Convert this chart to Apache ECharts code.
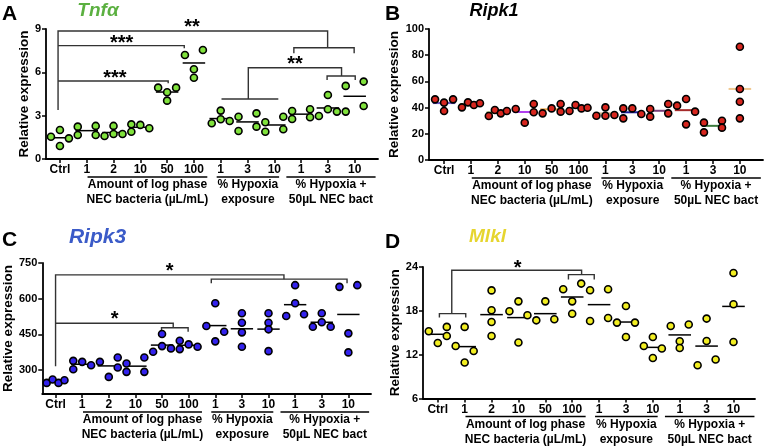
<!DOCTYPE html>
<html><head><meta charset="utf-8">
<script src="https://cdn.jsdelivr.net/npm/echarts@6/dist/echarts.min.js"></script>
<style>html,body{margin:0;padding:0;background:#fff}#c{width:765px;height:446px}</style>
</head><body><div id="c"></div>
<script>
// ---------- data ----------
const categories = ['Ctrl','1','2','10','50','100','1','3','10','1','3','10'];
const groupTitles = [['Amount of log phase','NEC bacteria (µL/mL)'],['% Hypoxia','exposure'],['% Hypoxia +','50µL NEC bact']];
const groupSpans = [[1.03,5.5],[5.85,8.18],[8.45,11.78]];

// Tnfα
const tnfaValues = [
  [1.54,2.01,0.90,1.43],[2.24,1.66,2.29,1.66],[1.59,2.29,1.73,1.73],[2.40,1.89,2.36,2.13],
  [4.94,4.62,4.04,4.94],[7.20,6.21,5.63,7.55],[2.47,3.35,2.75,2.63],[2.93,1.94,3.16,2.24],
  [2.54,1.89,2.93,2.06],[3.32,2.77,3.44,2.89],[2.98,4.43,3.44,3.28],[5.06,3.28,5.36,3.67]];
const tnfaSlots = [
  [-1,0,0,1],[-1,-1,1,1],[-1,0,0,1],[-1,-1,0,1],[-1,0,0,1],[-1,0,0,1],
  [-1,0,0,1],[-1,-1,1,1],[-1,-1,1,1],[-1,-1,1,1],[-1,0,0,1],[-1,-1,1,1]];
// Ripk1
const ripk1Values = [
  [46.3,43.8,37.4,46.3],[40.2,44.0,42.0,43.3],[33.6,38.2,35.6,37.4],[38.9,28.5,42.7,36.4],
  [35.6,39.4,42.7,36.9],[37.4,42.0,39.4,39.9],[33.8,40.2,33.8,34.4],[39.4,31.8,39.4,35.1],
  [38.9,33.1,42.7,35.6],[41.5,46.6,27.2,36.9],[28.5,21.1,30.0,24.7],[86.5,54.2,44.5,31.8]];
const ripk1Slots = [
  [-1,0,0,1],[-1,-0.33,0.33,1],[-1,-0.33,0.33,1],[-1,0,1,1],[-1,0,1,1],[-1,-0.33,0.33,1],
  [-1,0,0,1],[-1,-1,0,1],[-1,-1,1,1],[-1,0,0,1],[-1,-1,1,1],[0,0,0,0]];
// Ripk3
const ripk3Values = [
  [246.6,260.8,246.6,257.9],[339.2,304.2,335.0,321.0],[335.0,271.8,353.5,311.4],[328.2,292.9,353.5,292.9],
  [377.1,451.7,401.1,391.4],[423.5,388.5,408.3,398.2],[485.4,581.0,421.0,461.4],[538.9,499.3,458.9,398.2],
  [538.9,499.3,471.5,380.0],[527.6,656.9,581.0,534.7],[482.5,538.9,501.0,482.5],[649.8,454.7,374.6,656.9]];
const ripk3Slots = [
  [-1,-0.33,0.33,1],[-1,-1,0,1],[-1,0,1,1],[-1,-1,1,1],[-1,0,0,1],[-1,-1,0,1],
  [-1,0,0,1],[0,0,0,0],[0,0,0,0],[-1,0,0,1],[-1,0,0,1],[-1,0,0,1]];
// Mlkl
const mlklValues = [
  [15.2,13.6,15.8,14.56],[13.19,15.8,10.92,12.5],[20.8,18.08,16.48,14.56],[17.94,19.3,13.66,17.39],
  [16.7,19.3,16.84],[20.95,19.3,17.6,21.73],[20.81,16.61,20.95,17.02],[16.39,18.67,14.42,16.39],
  [13.19,14.42,11.55,12.84],[15.93,13.84,12.92,16.12],[10.55,16.94,13.88,11.33],[23.18,18.9,13.74]];
const mlklSlots = [
  [-1,0,1,1],[-1,0,0,1],[0,0,0,0],[-1,0,0,1],[-1,0,1],[-1,0,0,1],
  [-1,-1,1,1],[-1,0,0,1],[-1,0,0,1],[-1,0,0,1],[-1,0,0,1],[0,0,0]];

// significance annotations (category units, value units)
const tnfaBrackets = [
  [[-0.07,3.4],[-0.07,8.86],[9.99,8.86],[9.99,7.7]],
  [[8.73,7.32],[8.73,7.7],[10.98,7.7],[10.98,7.32]],
  [[-0.07,7.85],[4.64,7.85],[4.64,7.67]],
  [[-0.07,5.40],[4.04,5.40],[4.04,5.24]],
  [[6.03,4.15],[8.15,4.15]],
  [[7.03,4.15],[7.03,6.32],[10.51,6.32],[10.51,5.75]],
  [[9.97,5.47],[9.97,5.75],[11.02,5.75],[11.02,5.47]]];
const tnfaStars = [[4.93,9.42,'**'],[2.3,8.36,'***'],[2.05,5.93,'***'],[8.77,6.86,'**']];
const ripk3Brackets = [
  [[0,316.9],[0,700.3],[8.58,700.3],[8.58,682.2]],
  [[5.85,665.4],[5.85,682.2],[10.95,682.2],[10.95,665.4]],
  [[0,496.8],[4.42,496.8],[4.42,478.3]],
  [[3.98,461.4],[3.98,478.3],[4.98,478.3],[4.98,461.4]]];
const ripk3Stars = [[4.29,735.3,'*'],[2.22,531.8,'*']];
const mlklBrackets = [
  [[0.52,17.62],[0.52,23.55],[5.35,23.55],[5.35,22.96]],
  [[0.06,17.08],[0.06,17.62],[1.04,17.62],[1.04,17.08]],
  [[4.86,22.3],[4.86,22.96],[5.82,22.96],[5.82,22.3]]];
const mlklStars = [[2.97,24.47,'*']];

// ---------- styles / layout ----------
const FONT = "'Liberation Sans', Arial, sans-serif";
const SLOT = 0.335, HW = 0.42;
const ripk1LineColors = ['#6a5acd','#9acd32','#6b8e23','#b040f0','#e8a040','#20b2aa','#d2b48c','#1c1c9c','#7b3f7b','#a52a2a','#3c7a3c','#f0c890'];

const panels = [
  {letter:'A', lx:2, ly:15, title:'Tnf\u03b1', tc:'#5bb040', ts:19, tx:98, ty:11,
   grid:{left:46, top:29, width:332, height:130}, xMin:-0.52, xMax:11.87,
   yMin:0, yMax:9, yTicks:[0,3,6,9], nameGap:12, fill:'#80e23c',
   values:tnfaValues, slots:tnfaSlots, lineColors:null, brackets:tnfaBrackets, stars:tnfaStars},
  {letter:'B', lx:385, ly:15, title:'Ripk1', tc:'#000', ts:18, tx:494, ty:11,
   grid:{left:429, top:29, width:334, height:131}, xMin:-0.56, xMax:11.86,
   yMin:0, yMax:100, yTicks:[0,20,40,60,80,100], nameGap:25, fill:'#d7261e',
   values:ripk1Values, slots:ripk1Slots, lineColors:ripk1LineColors, brackets:[], stars:[]},
  {letter:'C', lx:2, ly:241, title:'Ripk3', tc:'#3b5bc8', ts:21, tx:97.5, ty:237.5,
   grid:{left:40, top:263, width:331, height:131}, xMin:-0.5, xMax:11.85,
   yMin:200, yMax:750, yTicks:[300,450,600,750], nameGap:26, fill:'#3322ee',
   values:ripk3Values, slots:ripk3Slots, lineColors:null, brackets:ripk3Brackets, stars:ripk3Stars},
  {letter:'D', lx:385, ly:243, title:'Mlkl', tc:'#e6d52e', ts:19, tx:487.5, ty:236.5,
   grid:{left:423, top:267, width:332, height:131.5}, xMin:-0.55, xMax:11.8,
   yMin:6, yMax:24, yTicks:[6,12,18,24], nameGap:19, fill:'#f2ee22',
   values:mlklValues, slots:mlklSlots, lineColors:null, brackets:mlklBrackets, stars:mlklStars}
];

const mean = a => a.reduce((s,v)=>s+v,0)/a.length;
const catIdx = categories.map((_,i)=>i);

const grids=[], xAxes=[], yAxes=[], series=[], graphics=[];
panels.forEach((p,i)=>{
  grids.push(Object.assign({containLabel:false}, p.grid));
  xAxes.push({type:'value', gridIndex:i, min:p.xMin, max:p.xMax,
    axisLine:{show:true, onZero:false, lineStyle:{color:'#000', width:1.8}},
    axisTick:{show:true, customValues:catIdx, length:4, lineStyle:{color:'#000', width:1.5}},
    axisLabel:{customValues:catIdx, formatter:v=>categories[Math.round(v)], margin:5,
      color:'#000', fontWeight:'bold', fontSize:12, fontFamily:FONT},
    splitLine:{show:false}});
  yAxes.push({type:'value', gridIndex:i, min:p.yMin, max:p.yMax,
    name:'Relative expression', nameLocation:'middle', nameGap:p.nameGap, nameRotate:90,
    nameTextStyle:{color:'#000', fontWeight:'bold', fontSize:13.5, fontFamily:FONT},
    axisLine:{show:true, onZero:false, lineStyle:{color:'#000', width:1.8}},
    axisTick:{show:true, customValues:p.yTicks, length:4, lineStyle:{color:'#000', width:1.5}},
    axisLabel:{customValues:p.yTicks, margin:5, color:'#000', fontWeight:'bold', fontSize:11, fontFamily:FONT},
    splitLine:{show:false}});

  // mean lines
  series.push({type:'custom', xAxisIndex:i, yAxisIndex:i, z:2, clip:false, silent:true,
    data:p.values.map((g,ci)=>[ci, mean(g)]),
    renderItem:(params, api)=>{
      const ci=api.value(0), m=api.value(1);
      const a=api.coord([ci-HW,m]), b=api.coord([ci+HW,m]);
      return {type:'line', shape:{x1:a[0],y1:a[1],x2:b[0],y2:b[1]},
        style:{stroke:p.lineColors?p.lineColors[params.dataIndex]:'#000', lineWidth:p.lineColors?2:1.5}};
    }});
  // points
  const pts=[];
  p.values.forEach((g,ci)=>g.forEach((v,k)=>pts.push([ci + p.slots[ci][k]*SLOT, v])));
  series.push({type:'scatter', xAxisIndex:i, yAxisIndex:i, z:3, symbol:'circle', symbolSize:7, silent:true,
    itemStyle:{color:p.fill, borderColor:'#000', borderWidth:1.6, opacity:1}, data:pts});
  // brackets
  if (p.brackets.length) series.push({type:'custom', xAxisIndex:i, yAxisIndex:i, z:1, clip:false, silent:true,
    data:p.brackets.map(()=>[0,p.yMin]),
    renderItem:(params, api)=>{
      const pl=p.brackets[params.dataIndex].map(q=>api.coord(q));
      return {type:'polyline', shape:{points:pl}, style:{stroke:'#333', lineWidth:1.4, fill:null}};
    }});
  if (p.stars.length) series.push({type:'custom', xAxisIndex:i, yAxisIndex:i, z:4, clip:false, silent:true,
    data:p.stars.map(s=>[s[0],s[1]]),
    renderItem:(params, api)=>{
      const s=p.stars[params.dataIndex]; const c=api.coord([s[0],s[1]]);
      return {type:'text', style:{text:s[2], x:c[0], y:c[1]+5, align:'center', verticalAlign:'middle',
        font:'bold 20px '+FONT, fill:'#000'}};
    }});
  // group labels under axis
  series.push({type:'custom', xAxisIndex:i, yAxisIndex:i, z:4, clip:false, silent:true,
    data:groupSpans.map(()=>[0,p.yMin]),
    renderItem:(params, api)=>{
      const s=groupSpans[params.dataIndex], t=groupTitles[params.dataIndex];
      const a=api.coord([s[0],p.yMin]), b=api.coord([s[1],p.yMin]);
      const y0=a[1], cx=(a[0]+b[0])/2;
      return {type:'group', children:[
        {type:'line', shape:{x1:a[0],y1:y0+18,x2:b[0],y2:y0+18}, style:{stroke:'#000', lineWidth:1.5}},
        {type:'text', style:{text:t[0], x:cx, y:y0+26, align:'center', verticalAlign:'middle', font:'bold 12px '+FONT, fill:'#000'}},
        {type:'text', style:{text:t[1], x:cx, y:y0+41, align:'center', verticalAlign:'middle', font:'bold 12px '+FONT, fill:'#000'}}
      ]};
    }});

  graphics.push({type:'text', left:p.lx, top:p.ly-11, style:{text:p.letter, font:'bold 21px '+FONT, fill:'#000'}});
  graphics.push({type:'text', x:p.tx, y:p.ty, style:{text:p.title, align:'center', verticalAlign:'middle',
    textAlign:'center', textVerticalAlign:'middle', font:'italic bold '+p.ts+'px '+FONT, fill:p.tc}});
});

const chart = echarts.init(document.getElementById('c'), null, {renderer:'canvas'});
chart.setOption({animation:false, backgroundColor:'#fff', grid:grids, xAxis:xAxes, yAxis:yAxes, series:series, graphic:graphics});
</script></body></html>
